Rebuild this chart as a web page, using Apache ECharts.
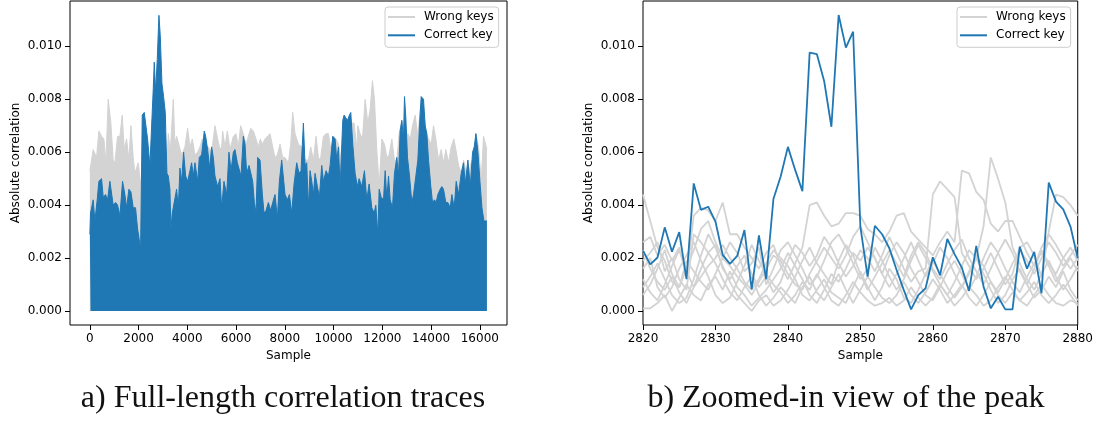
<!DOCTYPE html>
<html>
<head>
<meta charset="utf-8">
<script src="https://cdn.jsdelivr.net/npm/echarts@6.0.0/dist/echarts.min.js"></script>
<style>
  html, body { margin: 0; padding: 0; background: #fff; }
  #chart { width: 1096px; height: 421px; }
</style>
</head>
<body>
<div id="chart"></div>
<script>
// ---- panel a) : full-length traces, upper envelope ----
var fullBlueSample = [0, 27, 137, 205, 301, 370, 480, 548, 643, 726, 821, 890, 958, 1054, 1136, 1232, 1342, 1437, 1506, 1602,
  1684, 1780, 1875, 1958, 2026, 2081, 2149, 2231, 2286, 2368, 2464, 2532, 2601, 2642, 2697, 2765, 2834, 2888, 2957, 3025,
  3094, 3162, 3217, 3285, 3326, 3381, 3463, 3559, 3628, 3696, 3765, 3847, 3929, 4011, 4107, 4175, 4244, 4312, 4422, 4490,
  4586, 4695, 4750, 4832, 4914, 4997, 5065, 5133, 5243, 5339, 5407, 5503, 5613, 5708, 5791, 5887, 5955, 6051, 6133, 6201,
  6297, 6366, 6434, 6530, 6598, 6680, 6749, 6817, 6886, 6982, 7077, 7146, 7228, 7324, 7420, 7502, 7597, 7693, 7775, 7871,
  7940, 8008, 8104, 8186, 8282, 8377, 8487, 8583, 8665, 8761, 8829, 8898, 8966, 9035, 9104, 9172, 9240, 9336, 9418, 9514,
  9583, 9692, 9788, 9857, 9966, 10062, 10130, 10199, 10267, 10376, 10431, 10500, 10568, 10650, 10705, 10787, 10883, 10979, 11047, 11157,
  11266, 11362, 11458, 11568, 11664, 11732, 11815, 11870, 11952, 12048, 12117, 12185, 12253, 12322, 12416, 12498, 12594, 12663, 12731, 12800,
  12868, 12909, 12964, 13032, 13115, 13210, 13279, 13375, 13457, 13525, 13594, 13689, 13758, 13826, 13895, 13990, 14059, 14141, 14209, 14278,
  14374, 14442, 14510, 14606, 14689, 14784, 14853, 14949, 15031, 15127, 15237, 15333, 15401, 15511, 15607, 15703, 15771, 15840, 15922, 16004,
  16087, 16169, 16251, 16290];
var fullBlueCorr = [0.0029, 0.0037, 0.0042, 0.0034, 0.0042, 0.0049, 0.0050, 0.0043, 0.0044, 0.0042, 0.0049, 0.0049, 0.0040, 0.0041, 0.0040, 0.0036, 0.0049, 0.0044, 0.0039, 0.0046,
  0.0045, 0.0039, 0.0039, 0.0031, 0.0027, 0.0023, 0.0074, 0.0075, 0.0075, 0.0065, 0.0055, 0.0055, 0.0084, 0.0094, 0.0083, 0.0095, 0.01117, 0.0104, 0.0086, 0.0081,
  0.0075, 0.0052, 0.0051, 0.0046, 0.0031, 0.0037, 0.0037, 0.0046, 0.0039, 0.0054, 0.0049, 0.0060, 0.0051, 0.0049, 0.0053, 0.0056, 0.0051, 0.0056, 0.0049, 0.0058,
  0.0059, 0.0068, 0.0066, 0.0061, 0.0054, 0.0062, 0.0058, 0.0051, 0.0047, 0.0050, 0.0039, 0.0049, 0.0044, 0.0060, 0.0053, 0.0060, 0.0061, 0.0056, 0.0056, 0.0051,
  0.0066, 0.0063, 0.0052, 0.0055, 0.0055, 0.0049, 0.0041, 0.0037, 0.0058, 0.0057, 0.0044, 0.0037, 0.0038, 0.0041, 0.0038, 0.0041, 0.0044, 0.0035, 0.0049, 0.0057,
  0.0057, 0.0044, 0.0042, 0.0044, 0.0037, 0.0048, 0.0056, 0.0052, 0.0053, 0.0071, 0.0055, 0.0056, 0.0039, 0.0053, 0.0049, 0.0044, 0.0052, 0.0047, 0.0043, 0.0055,
  0.0049, 0.0053, 0.0051, 0.0055, 0.0066, 0.0065, 0.0057, 0.0062, 0.0047, 0.0072, 0.0074, 0.0073, 0.0072, 0.0074, 0.0075, 0.0063, 0.0052, 0.0047, 0.0050, 0.0047,
  0.0053, 0.0042, 0.0048, 0.0039, 0.0037, 0.0040, 0.0029, 0.0046, 0.0043, 0.0042, 0.0053, 0.0042, 0.0051, 0.0042, 0.0039, 0.0052, 0.0058, 0.0051, 0.0068, 0.0072,
  0.0065, 0.0081, 0.0073, 0.0058, 0.0051, 0.0041, 0.0044, 0.0051, 0.0057, 0.0070, 0.0081, 0.0080, 0.0070, 0.0067, 0.0057, 0.0047, 0.0041, 0.0042, 0.0041, 0.0044,
  0.0046, 0.0047, 0.0046, 0.0041, 0.0041, 0.0039, 0.0044, 0.0039, 0.0049, 0.0044, 0.0052, 0.0056, 0.0048, 0.0057, 0.0047, 0.0060, 0.0062, 0.0067, 0.0060, 0.0049,
  0.0039, 0.0034, 0.0034, 0.0034];

var fullGraySample = [0, 137, 274, 370, 480, 575, 658, 753, 862, 958, 1027, 1136, 1232, 1328, 1410, 1506, 1602, 1684, 1780, 1848,
  1985, 2094, 2200, 2500, 2800, 3162, 3217, 3300, 3422, 3490, 3559, 3765, 3901, 4011, 4107, 4203, 4312, 4422, 4518, 4613,
  4723, 4860, 4997, 5133, 5243, 5339, 5407, 5448, 5544, 5640, 5750, 5887, 5996, 6092, 6187, 6297, 6406, 6502, 6598, 6708,
  6817, 6913, 6995, 7077, 7187, 7283, 7392, 7502, 7597, 7693, 7803, 7912, 8008, 8145, 8241, 8323, 8419, 8556, 8693, 8788,
  8870, 8966, 9062, 9172, 9281, 9377, 9459, 9583, 9692, 9788, 9884, 9993, 10103, 10199, 10294, 10404, 10541, 10650, 10746, 10842,
  10952, 10992, 11088, 11184, 11294, 11403, 11499, 11595, 11677, 11773, 11870, 11979, 12089, 12185, 12280, 12389, 12498, 12594, 12690, 12800,
  12937, 13046, 13142, 13238, 13347, 13457, 13553, 13649, 13785, 13895, 14004, 14100, 14196, 14305, 14415, 14510, 14606, 14716, 14826, 14935,
  15017, 15127, 15237, 15333, 15429, 15538, 15648, 15744, 15840, 15949, 16059, 16152, 16220, 16290];
var fullGrayCorr = [0.0053, 0.0061, 0.0058, 0.0068, 0.0066, 0.0065, 0.0056, 0.0080, 0.0071, 0.0057, 0.0056, 0.0066, 0.0066, 0.0074, 0.0061, 0.0065, 0.0057, 0.0070, 0.0058, 0.0052,
  0.0056, 0.0047, 0.0050, 0.0050, 0.0050, 0.0055, 0.0067, 0.0060, 0.0080, 0.0063, 0.0066, 0.0059, 0.0062, 0.0069, 0.0062, 0.0065, 0.0059, 0.0060, 0.0062, 0.0065,
  0.0061, 0.0062, 0.0060, 0.0070, 0.0065, 0.0061, 0.0062, 0.0068, 0.0062, 0.0068, 0.0061, 0.0066, 0.0067, 0.0062, 0.0070, 0.0067, 0.0063, 0.0066, 0.0069, 0.0068,
  0.0065, 0.0062, 0.0065, 0.0063, 0.0065, 0.0066, 0.0067, 0.0062, 0.0058, 0.0059, 0.0063, 0.0058, 0.0058, 0.0056, 0.0063, 0.0075, 0.0067, 0.0063, 0.0062, 0.0058,
  0.0057, 0.0057, 0.0062, 0.0057, 0.0066, 0.0058, 0.0057, 0.0066, 0.0067, 0.0067, 0.0061, 0.0066, 0.0065, 0.0063, 0.0058, 0.0055, 0.0062, 0.0067, 0.0071, 0.0071,
  0.0061, 0.0070, 0.0067, 0.0065, 0.0080, 0.0071, 0.0076, 0.0087, 0.0080, 0.0061, 0.0047, 0.0065, 0.0063, 0.0058, 0.0059, 0.0065, 0.0057, 0.0057, 0.0067, 0.0072,
  0.0065, 0.0067, 0.0065, 0.0070, 0.0074, 0.0066, 0.0076, 0.0080, 0.0068, 0.0065, 0.0063, 0.0070, 0.0065, 0.0057, 0.0061, 0.0056, 0.0061, 0.0056, 0.0062, 0.0065,
  0.0061, 0.0055, 0.0052, 0.0057, 0.0053, 0.0052, 0.0056, 0.0058, 0.0067, 0.0062, 0.0049, 0.0066, 0.0066, 0.0061];

// ---- panel b) : zoom on samples 2820..2880 ----
var zoomSamples = [2820, 2821, 2822, 2823, 2824, 2825, 2826, 2827, 2828, 2829, 2830, 2831, 2832, 2833, 2834, 2835, 2836, 2837, 2838, 2839,
  2840, 2841, 2842, 2843, 2844, 2845, 2846, 2847, 2848, 2849, 2850, 2851, 2852, 2853, 2854, 2855, 2856, 2857, 2858, 2859,
  2860, 2861, 2862, 2863, 2864, 2865, 2866, 2867, 2868, 2869, 2870, 2871, 2872, 2873, 2874, 2875, 2876, 2877, 2878, 2879, 2880];

var correctKey = [2.28, 1.76, 2.02, 3.16, 2.24, 2.98, 1.20, 4.82, 3.82, 3.94, 3.38, 2.12, 1.78, 2.08, 3.06, 0.82, 2.86, 1.20, 4.23, 5.08,
  6.20, 5.33, 4.53, 9.76, 9.70, 8.69, 6.96, 11.18, 9.95, 10.55, 3.19, 1.30, 3.22, 2.90, 2.37, 1.55, 0.79, 0.06, 0.60, 0.86,
  2.03, 1.35, 2.72, 2.15, 1.64, 0.76, 2.46, 0.92, 0.10, 0.54, 0.06, 0.06, 2.43, 1.60, 2.23, 0.67, 4.85, 4.13, 3.84, 3.19, 1.99];

// nine wrong-key guesses (values in units of 1e-3)
var wrongKey1 = [4.4, 3.4, 2.4, 1.9, 1.1, 0.9, 1.6, 2.3, 3.1, 3.4, 2.6, 2.0, 1.7, 1.3, 1.0, 0.6, 1.1, 1.6, 2.1, 1.9, 1.4,
  1.0, 0.8, 1.4, 1.9, 2.4, 2.0, 1.6, 2.1, 2.8, 3.2, 2.6, 2.0, 1.4, 0.9, 1.4, 2.0, 2.6, 1.9, 1.3, 1.8,
  2.4, 2.0, 1.4, 0.9, 1.5, 2.1, 1.7, 1.1, 0.7, 1.2, 1.8, 2.3, 1.9, 1.4, 2.0, 2.6, 2.2, 1.7, 2.1, 2.5];
var wrongKey2 = [2.6, 2.8, 2.1, 2.5, 1.9, 2.4, 1.3, 3.6, 3.9, 3.8, 3.4, 4.1, 2.9, 2.9, 2.4, 2.0, 1.6, 2.2, 2.5, 1.7, 1.2,
  1.8, 2.4, 4.0, 4.1, 3.6, 3.2, 3.3, 3.7, 3.7, 3.6, 3.1, 2.9, 2.6, 3.0, 3.6, 3.7, 3.0, 2.7, 2.4, 2.1,
  2.6, 3.0, 2.6, 5.3, 5.2, 4.5, 4.2, 3.3, 3.0, 3.4, 3.4, 2.8, 2.2, 1.7, 2.4, 2.9, 2.5, 2.0, 1.6, 2.0];
var wrongKey3 = [1.9, 2.2, 2.6, 1.5, 2.0, 1.2, 0.8, 2.9, 2.6, 2.2, 2.5, 1.6, 1.2, 1.7, 2.1, 1.4, 0.9, 1.3, 0.7, 1.1, 1.9,
  2.5, 2.2, 1.7, 2.1, 2.8, 2.4, 1.8, 1.3, 1.7, 2.3, 2.0, 1.5, 2.1, 2.8, 2.2, 1.6, 1.1, 1.5, 1.6, 4.4,
  4.9, 4.6, 4.3, 2.2, 1.7, 1.2, 1.6, 2.2, 1.6, 1.0, 1.4, 2.4, 2.6, 2.1, 1.3, 3.0, 4.4, 4.3, 4.0, 3.6];
var wrongKey4 = [0.6, 1.0, 1.6, 2.3, 1.4, 0.9, 1.9, 1.5, 1.1, 0.8, 1.4, 2.0, 2.6, 2.2, 1.5, 1.8, 2.4, 1.0, 1.6, 2.3, 2.6,
  2.1, 1.6, 1.0, 1.3, 1.9, 2.6, 2.9, 2.4, 1.8, 1.2, 1.6, 2.4, 1.9, 1.3, 0.8, 1.2, 1.9, 2.5, 2.0, 1.5,
  1.0, 0.6, 1.1, 1.7, 2.3, 2.0, 3.2, 5.8, 5.0, 4.1, 2.4, 1.8, 1.2, 0.8, 1.4, 1.9, 1.3, 0.8, 1.2, 1.7];
var wrongKey5 = [1.2, 0.7, 0.4, 1.0, 1.7, 2.3, 1.5, 0.9, 1.6, 2.2, 1.8, 1.2, 0.7, 0.4, 0.9, 1.3, 0.6, 0.2, 0.5, 0.9, 0.6,
  0.3, 0.9, 1.3, 0.7, 0.4, 0.9, 1.4, 0.8, 0.3, 0.8, 1.3, 0.9, 0.5, 0.3, 0.6, 1.1, 0.6, 0.3, 0.7, 1.2,
  0.8, 0.3, 0.6, 1.0, 0.5, 0.2, 0.6, 1.1, 0.6, 0.3, 0.7, 0.4, 0.2, 0.6, 1.0, 0.6, 0.3, 0.2, 0.4, 0.3];
var wrongKey6 = [0.1, 0.1, 0.3, 0.6, 0.0, 0.5, 1.0, 0.6, 0.4, 1.0, 1.3, 0.8, 1.5, 0.9, 0.6, 0.2, 0.5, 0.8, 1.2, 1.6, 2.2,
  1.7, 1.2, 0.6, 0.3, 0.8, 1.4, 1.1, 1.6, 2.2, 1.9, 2.4, 2.0, 1.4, 2.1, 2.6, 2.2, 1.6, 1.1, 0.6, 0.4,
  0.9, 1.5, 1.9, 1.4, 0.8, 1.3, 2.0, 2.6, 2.2, 1.6, 1.1, 0.7, 1.3, 1.8, 2.2, 1.7, 1.1, 1.6, 2.0, 1.5];
var wrongKey7 = [2.3, 1.6, 1.1, 0.8, 1.3, 0.7, 0.3, 0.9, 1.3, 1.7, 2.0, 2.5, 2.0, 1.6, 1.1, 0.8, 1.2, 1.8, 2.3, 2.0, 1.7,
  1.2, 0.6, 0.4, 0.8, 1.2, 0.7, 0.5, 0.3, 0.9, 1.5, 0.9, 0.4, 0.9, 1.6, 1.2, 0.5, 0.3, 0.8, 1.4, 1.9,
  1.4, 0.9, 0.5, 0.9, 1.4, 2.0, 1.4, 0.8, 0.3, 0.6, 1.2, 1.6, 1.0, 0.5, 0.8, 1.3, 0.9, 1.5, 0.8, 0.4];
var wrongKey8 = [0.9, 1.3, 1.8, 1.2, 0.6, 0.3, 0.5, 1.2, 2.1, 2.9, 2.4, 1.7, 1.1, 0.6, 0.3, 0.0, 0.4, 0.6, 0.2, 0.4, 0.8,
  1.3, 1.9, 2.4, 1.8, 1.4, 1.0, 1.9, 2.5, 2.1, 1.4, 0.8, 1.3, 1.8, 2.3, 1.8, 1.3, 2.1, 2.6, 2.2, 1.6,
  1.2, 1.8, 2.3, 2.7, 2.0, 1.5, 1.0, 1.6, 2.2, 2.7, 2.2, 1.5, 1.0, 1.6, 2.3, 1.8, 1.4, 2.0, 2.4, 1.9];
var wrongKey9 = [1.6, 2.0, 0.9, 0.5, 0.9, 1.6, 2.1, 2.6, 1.9, 1.3, 0.6, 0.3, 0.5, 1.1, 1.7, 2.5, 1.9, 1.4, 1.0, 0.7, 0.3,
  0.6, 1.1, 0.8, 1.4, 0.9, 0.4, 0.2, 0.6, 1.1, 0.7, 0.4, 0.2, 0.3, 0.5, 0.2, 0.4, 0.9, 0.5, 0.2, 0.5,
  1.0, 0.6, 0.2, 0.5, 0.9, 0.6, 0.2, 0.4, 0.9, 1.3, 0.8, 0.4, 0.7, 1.1, 0.6, 0.3, 0.6, 1.0, 0.6, 0.2];
var wrongKeys = [wrongKey1, wrongKey2, wrongKey3, wrongKey4, wrongKey5, wrongKey6, wrongKey7, wrongKey8, wrongKey9];

var fullTicks = [0, 2000, 4000, 6000, 8000, 10000, 12000, 14000, 16000];
var corrTicks = [0, 0.002, 0.004, 0.006, 0.008, 0.010];

var BLUE = '#1f77b4';
var GRAY = '#d3d3d3';
var FONT = 'DejaVu Sans';

function pairs(xs, ys, scale) {
    return xs.map(function (x, i) { return [x, ys[i] * scale]; });
}

function plainNum(v) {
    return String(Math.round(v));
}

function yAxisFor(idx) {
    return {
        type: 'value', gridIndex: idx,
        min: -0.000529, max: 0.011711,
        name: 'Absolute correlation', nameLocation: 'middle', nameGap: 48,
        nameTextStyle: {fontFamily: FONT, fontSize: 12, color: '#000'},
        axisLine: {show: false, onZero: false},
        splitLine: {show: false},
        axisTick: {show: true, length: 5, lineStyle: {color: '#000'}, customValues: corrTicks},
        axisLabel: {
            customValues: corrTicks, margin: 8,
            fontFamily: FONT, fontSize: 12, color: '#000',
            formatter: function (v) { return v.toFixed(3); }
        }
    };
}

function legendAt(left) {
    return {
        left: left, top: 7, orient: 'vertical',
        data: ['Wrong keys', 'Correct key'],
        icon: 'rect', itemWidth: 27, itemHeight: 2, itemGap: 4.3,
        padding: [3, 5, 5, 3],
        backgroundColor: 'rgba(255,255,255,0.8)',
        borderColor: '#cccccc', borderWidth: 1, borderRadius: 3,
        selectedMode: false,
        textStyle: {fontFamily: FONT, fontSize: 12, color: '#000', lineHeight: 14, padding: [0, 0, 0, 4]}
    };
}

var series = [
    {
        name: 'Wrong keys', type: 'line', xAxisIndex: 0, yAxisIndex: 0, z: 2,
        data: pairs(fullGraySample, fullGrayCorr, 1),
        showSymbol: false, color: GRAY,
        lineStyle: {color: GRAY, width: 1},
        areaStyle: {color: GRAY, opacity: 1}
    },
    {
        name: 'Correct key', type: 'line', xAxisIndex: 0, yAxisIndex: 0, z: 3,
        data: pairs(fullBlueSample, fullBlueCorr, 1),
        showSymbol: false, color: BLUE,
        lineStyle: {color: BLUE, width: 1},
        areaStyle: {color: BLUE, opacity: 1}
    }
];

wrongKeys.forEach(function (vals) {
    series.push({
        name: 'Wrong keys', type: 'line', xAxisIndex: 1, yAxisIndex: 1, z: 2,
        data: pairs(zoomSamples, vals, 0.001),
        showSymbol: false, color: GRAY,
        lineStyle: {color: GRAY, width: 1.8}
    });
});
series.push({
    name: 'Correct key', type: 'line', xAxisIndex: 1, yAxisIndex: 1, z: 5,
    data: pairs(zoomSamples, correctKey, 0.001),
    showSymbol: false, color: BLUE,
    lineStyle: {color: BLUE, width: 1.8}
});

var myChart = echarts.init(document.getElementById('chart'));
var option = {
    animation: false,
    backgroundColor: '#fff',
    grid: [
        {left: 70, top: 1, width: 437, height: 324, show: true, borderColor: '#000', borderWidth: 1, backgroundColor: '#fff'},
        {left: 643, top: 1, width: 435, height: 324, show: true, borderColor: '#000', borderWidth: 1, backgroundColor: '#fff'}
    ],
    xAxis: [
        {
            type: 'value', gridIndex: 0, min: -815, max: 17115,
            name: 'Sample', nameLocation: 'middle', nameGap: 24,
            nameTextStyle: {fontFamily: FONT, fontSize: 12, color: '#000'},
            axisLine: {show: false, onZero: false}, splitLine: {show: false},
            axisTick: {show: true, length: 5, lineStyle: {color: '#000'}, customValues: fullTicks},
            axisLabel: {customValues: fullTicks, margin: 8, fontFamily: FONT, fontSize: 12, color: '#000', formatter: plainNum}
        },
        {
            type: 'value', gridIndex: 1, min: 2820, max: 2880, interval: 10,
            name: 'Sample', nameLocation: 'middle', nameGap: 24,
            nameTextStyle: {fontFamily: FONT, fontSize: 12, color: '#000'},
            axisLine: {show: false, onZero: false}, splitLine: {show: false},
            axisTick: {show: true, length: 5, lineStyle: {color: '#000'}},
            axisLabel: {margin: 8, fontFamily: FONT, fontSize: 12, color: '#000', formatter: plainNum}
        }
    ],
    yAxis: [yAxisFor(0), yAxisFor(1)],
    legend: [legendAt(385), legendAt(957)],
    graphic: [
        {type: 'text', x: 283, y: 399, style: {text: 'a) Full-length correlation traces', fontFamily: 'Liberation Serif', fontSize: 32, fill: '#111', align: 'center', verticalAlign: 'middle'}},
        {type: 'text', x: 846, y: 399, style: {text: 'b) Zoomed-in view of the peak', fontFamily: 'Liberation Serif', fontSize: 32, fill: '#111', align: 'center', verticalAlign: 'middle'}}
    ],
    series: series
};
myChart.setOption(option, true);
</script>
</body>
</html>
